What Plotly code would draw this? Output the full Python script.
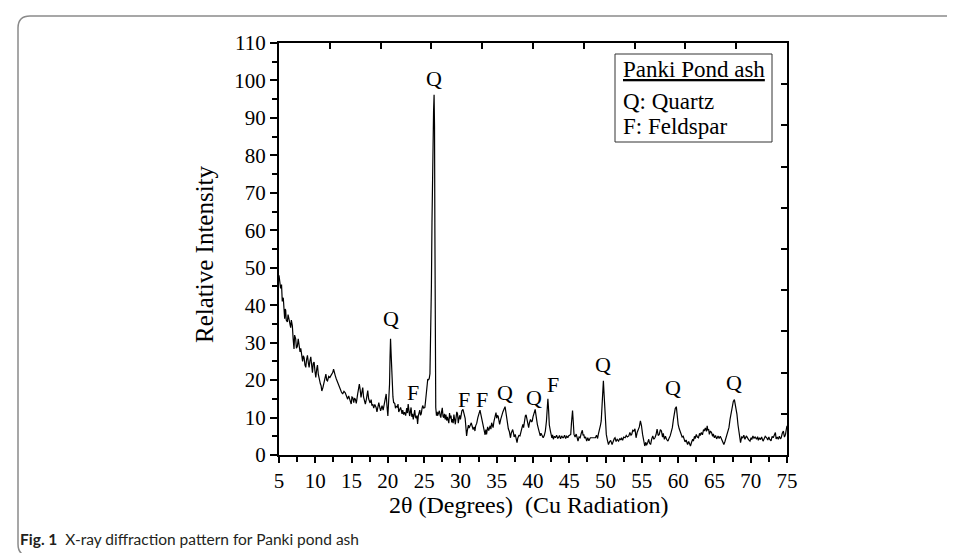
import plotly.graph_objects as go

# ---- data ----
two_theta = [
    5.0, 5.1, 5.22, 5.35, 5.45, 5.59, 5.7, 5.78, 5.85, 5.92, 6.0, 6.15, 6.25, 6.38, 6.5, 6.61, 6.7, 6.84, 6.95, 7.07,
    7.15, 7.3, 7.4, 7.53, 7.65, 7.76, 7.9, 8.0, 8.13, 8.25, 8.35, 8.46, 8.58, 8.69, 8.8, 8.92, 9.05, 9.15, 9.25, 9.38,
    9.5, 9.61, 9.72, 9.84, 9.95, 10.07, 10.2, 10.3, 10.42, 10.53, 10.7, 10.8, 10.9, 11.05, 11.23, 11.35, 11.46, 11.58, 11.69, 11.85,
    12.01, 12.15, 12.29, 12.4, 12.52, 12.63, 12.75, 12.9, 13.07, 13.2, 13.3, 13.45, 13.6, 13.77, 13.95, 14.13, 14.3, 14.46, 14.6, 14.78,
    14.95, 15.05, 15.15, 15.3, 15.4, 15.52, 15.65, 15.84, 15.95, 16.07, 16.18, 16.3, 16.42, 16.54, 16.65, 16.75, 16.9, 17.05, 17.23, 17.35,
    17.45, 17.55, 17.7, 17.8, 17.92, 18.05, 18.2, 18.38, 18.5, 18.62, 18.75, 18.88, 19.0, 19.08, 19.2, 19.35, 19.54, 19.65, 19.77, 19.88,
    20.0, 20.1, 20.23, 20.3, 20.37, 20.45, 20.52, 20.6, 20.7, 20.8, 20.95, 21.05, 21.15, 21.3, 21.4, 21.5, 21.62, 21.75, 21.85, 21.95,
    22.05, 22.17, 22.3, 22.45, 22.6, 22.7, 22.8, 22.9, 23.0, 23.1, 23.2, 23.3, 23.4, 23.5, 23.6, 23.7, 23.8, 23.9, 24.0, 24.1,
    24.2, 24.3, 24.4, 24.5, 24.6, 24.7, 24.8, 24.95, 25.1, 25.2, 25.3, 25.4, 25.5, 25.6, 25.7, 25.8, 25.87, 25.95, 26.0, 26.08,
    26.15, 26.22, 26.3, 26.37, 26.43, 26.48, 26.52, 26.56, 26.6, 26.7, 26.8, 26.85, 26.95, 27.1, 27.2, 27.3, 27.4, 27.5, 27.6, 27.7,
    27.8, 27.9, 28.0, 28.1, 28.2, 28.3, 28.4, 28.5, 28.6, 28.7, 28.8, 28.9, 29.0, 29.1, 29.2, 29.3, 29.4, 29.5, 29.6, 29.7,
    29.8, 29.9, 30.0, 30.1, 30.2, 30.35, 30.45, 30.55, 30.65, 30.75, 30.85, 30.95, 31.1, 31.2, 31.35, 31.5, 31.6, 31.75, 31.9, 32.0,
    32.1, 32.25, 32.4, 32.55, 32.7, 32.8, 32.95, 33.05, 33.2, 33.3, 33.4, 33.5, 33.6, 33.75, 33.9, 34.1, 34.2, 34.3, 34.4, 34.5,
    34.62, 34.75, 34.9, 35.0, 35.1, 35.2, 35.3, 35.4, 35.55, 35.7, 35.85, 36.0, 36.15, 36.3, 36.4, 36.5, 36.6, 36.75, 36.9, 37.0,
    37.1, 37.2, 37.3, 37.4, 37.55, 37.7, 37.8, 37.9, 38.05, 38.2, 38.35, 38.5, 38.6, 38.7, 38.85, 38.95, 39.05, 39.15, 39.25, 39.4,
    39.5, 39.65, 39.8, 39.9, 40.0, 40.15, 40.3, 40.4, 40.5, 40.6, 40.75, 40.85, 41.0, 41.1, 41.25, 41.4, 41.55, 41.7, 41.85, 41.95,
    42.05, 42.15, 42.25, 42.4, 42.5, 42.6, 42.7, 42.8, 42.95, 43.1, 43.25, 43.4, 43.5, 43.65, 43.8, 43.95, 44.1, 44.2, 44.35, 44.5,
    44.65, 44.8, 44.9, 45.05, 45.2, 45.3, 45.45, 45.55, 45.65, 45.8, 45.95, 46.1, 46.2, 46.35, 46.5, 46.65, 46.8, 46.9, 47.0, 47.1,
    47.25, 47.4, 47.55, 47.7, 47.9, 48.05, 48.2, 48.35, 48.5, 48.6, 48.75, 48.9, 49.0, 49.15, 49.3, 49.4, 49.5, 49.6, 49.7, 49.8,
    49.9, 50.0, 50.1, 50.25, 50.4, 50.55, 50.7, 50.9, 51.05, 51.2, 51.3, 51.45, 51.6, 51.8, 51.95, 52.1, 52.2, 52.35, 52.5, 52.7,
    52.85, 53.0, 53.2, 53.35, 53.5, 53.6, 53.75, 53.9, 54.05, 54.2, 54.35, 54.5, 54.65, 54.8, 54.95, 55.1, 55.25, 55.4, 55.55, 55.65,
    55.8, 55.95, 56.05, 56.2, 56.35, 56.5, 56.65, 56.8, 56.95, 57.1, 57.25, 57.4, 57.55, 57.7, 57.85, 57.95, 58.1, 58.25, 58.4, 58.6,
    58.75, 58.9, 59.05, 59.2, 59.35, 59.5, 59.6, 59.75, 59.85, 60.0, 60.15, 60.25, 60.4, 60.55, 60.7, 60.8, 60.95, 61.1, 61.3, 61.45,
    61.55, 61.7, 61.85, 62.0, 62.1, 62.25, 62.35, 62.5, 62.65, 62.8, 62.95, 63.05, 63.2, 63.35, 63.5, 63.6, 63.75, 63.9, 64.0, 64.1,
    64.2, 64.3, 64.45, 64.6, 64.75, 64.85, 65.0, 65.15, 65.3, 65.5, 65.65, 65.8, 65.9, 66.05, 66.2, 66.3, 66.45, 66.6, 66.75, 66.9,
    67.0, 67.15, 67.3, 67.45, 67.6, 67.75, 67.9, 68.0, 68.1, 68.25, 68.4, 68.5, 68.6, 68.75, 68.9, 69.05, 69.2, 69.4, 69.55, 69.7,
    69.9, 70.05, 70.15, 70.3, 70.45, 70.6, 70.8, 70.95, 71.05, 71.2, 71.35, 71.5, 71.7, 71.85, 72.0, 72.2, 72.35, 72.5, 72.6, 72.8,
    72.95, 73.1, 73.25, 73.4, 73.5, 73.65, 73.8, 73.95, 74.1, 74.2, 74.35, 74.5, 74.65, 74.8, 74.9, 75.0,
]
intensity = [
    48, 46, 44.5, 45.5, 41, 42, 37, 36.4, 39, 38.7, 36, 35.5, 37.5, 36.5, 35, 34, 36, 34.5, 31, 28.3,
    32, 31, 28.5, 29, 31, 29.5, 27.5, 28.5, 27, 25, 26.5, 26, 24, 23.4, 25.5, 26.6, 24.5, 23.4, 25, 26.2,
    24, 22, 24.5, 24.8, 22.5, 20.7, 23, 24, 21.5, 20.3, 19, 18.5, 17.1, 18, 19.8, 20.5, 21.6, 20, 19.8, 21,
    20.7, 21.2, 21.7, 22, 22.9, 21.8, 21.2, 20.3, 19.3, 18.8, 18.1, 17.5, 16.8, 16.3, 17, 16.6, 15.5, 14.9, 15.8, 14.5,
    13.6, 15.5, 15.4, 14, 15.2, 14.9, 13.8, 16.3, 17.2, 18.9, 17.5, 15.4, 16.8, 18, 15.5, 14.2, 13.6, 15, 17.2, 15,
    14.5, 13.9, 14.8, 13.2, 13.6, 12.5, 13.5, 12.7, 11.5, 13, 14, 12.8, 11.8, 12.3, 13.2, 12, 13.6, 14.5, 16.3, 13,
    10.4, 14, 18.9, 26, 31, 27, 22, 18, 15.5, 14, 13.8, 12.5, 13, 12.8, 13.6, 11.5, 12.3, 12.7, 12, 11,
    12, 10.8, 11.4, 10.5, 12.5, 11.2, 13.6, 11, 10.4, 11.5, 12.7, 10.2, 11, 9.5, 10.8, 12, 10.2, 9.8, 10.5, 8.3,
    10.5, 11.2, 12, 10.6, 11, 12.3, 13.2, 12.5, 12.7, 14.5, 16.7, 18.5, 20.3, 20, 20.4, 21.7, 27.9, 35, 45, 62,
    75, 86, 92, 96.2, 88, 60, 35, 18, 12.7, 10.5, 11.5, 10.5, 11.2, 11.8, 10.6, 10, 11.5, 12.6, 10.3, 10,
    11, 9.5, 10.8, 9.2, 10.2, 9.3, 8.5, 11.2, 9.8, 10.5, 8.7, 9.6, 8.5, 10.8, 9.3, 8.2, 10, 11.5, 11, 8.5,
    9.8, 10.6, 9.5, 11.4, 11.8, 12.2, 11.2, 10.3, 9.8, 7.5, 5.1, 6.5, 8, 7.2, 8.2, 8.6, 7.8, 6.8, 7.5, 6.4,
    7.8, 8.5, 10, 11.2, 12, 11, 9.5, 8, 7.3, 6, 5.4, 6.8, 5.5, 7.5, 6.5, 7.8, 6.9, 8.6, 7.5, 7.3,
    9, 10.6, 11.3, 9.8, 10.5, 10.4, 9.2, 8.2, 9.5, 10.9, 11.5, 12.2, 12.9, 11, 9.5, 8.2, 7, 6.2, 4.6, 5.8,
    6.5, 6.8, 6, 4.8, 5.5, 4.2, 3.3, 4.5, 5.2, 5.1, 6.4, 6.9, 8.2, 7.3, 9.5, 10.5, 10.7, 9.6, 8.2, 7.3,
    8.5, 9.5, 8.8, 9.1, 10.2, 11.5, 12.2, 10.8, 9.2, 8.2, 7, 6, 5.1, 5.8, 4.9, 4.6, 5.2, 6.4, 9, 12.5,
    15, 12, 8, 6.4, 5.2, 4.6, 5.4, 4.2, 5, 4.6, 5.3, 4.5, 4.6, 5.2, 4.3, 5.1, 4.6, 4.6, 5.3, 4.4,
    5, 4.6, 5.1, 5.3, 5.5, 8.5, 11.9, 8.8, 5.5, 4.8, 5.6, 4.5, 3.7, 4.8, 4.6, 5.8, 6.6, 5.2, 5.5, 4.5,
    4.8, 3.7, 4.6, 3.8, 4.6, 4.6, 4.6, 4.6, 4.8, 4.6, 5.3, 4.4, 5.5, 6.5, 8, 9.1, 13, 17, 19.8, 16,
    11, 8.2, 5.5, 4, 2.8, 3.5, 3.9, 2.8, 3.8, 4.4, 4.6, 3.6, 4.2, 3.7, 4.4, 4, 4.6, 3.9, 4.8, 4.6,
    5.2, 4.8, 5.1, 6, 5.3, 5.5, 6.6, 6.4, 7, 4.6, 6, 6.9, 7.5, 9.1, 7.8, 5.5, 4.2, 2.4, 3.4, 2.6,
    3.3, 4.2, 3.2, 2.8, 4.2, 5.1, 4.2, 4.6, 5.4, 6.9, 5.2, 5.5, 6.8, 6.4, 4.8, 5.8, 4.2, 5, 4.2, 3.7,
    4.5, 5.1, 6.2, 7.3, 9.5, 11.3, 12.4, 12.9, 10.5, 8.2, 7, 6.4, 5.5, 4.8, 5, 4.2, 3.5, 4, 2.8, 3.6,
    3, 2.4, 3.4, 4.2, 3.7, 5, 4.4, 5.5, 4.8, 4.6, 5.8, 5.2, 6, 5.4, 6.8, 6.4, 7.2, 6.3, 7.8, 6.6,
    6.9, 5.5, 6.4, 6, 5, 5.6, 4.6, 5.2, 4.3, 5.1, 4.4, 5, 4.6, 3.8, 3.4, 2.8, 3.6, 4.6, 5.2, 6.5,
    7.3, 9.5, 11.3, 12.8, 14.3, 14.8, 13.4, 12, 10.9, 8, 5.5, 4.2, 3.3, 4.8, 4.6, 5.3, 4.2, 5.1, 4.5, 4.1,
    3.7, 4.6, 4.1, 5.1, 4.5, 4.8, 4.2, 4.9, 3.9, 4.6, 4.1, 4.8, 3.7, 4.3, 5, 4.6, 4, 4.8, 4.2, 3.8,
    5, 4.6, 5.3, 6, 4.3, 4.8, 4.2, 5, 4.3, 4.6, 5.8, 6.4, 4.8, 5.5, 6.8, 7.8,
]

x_ticks = [5, 10, 15, 20, 25, 30, 35, 40, 45, 50, 55, 60, 65, 70, 75]
y_ticks = [0, 10, 20, 30, 40, 50, 60, 70, 80, 90, 100, 110]
top_ticks = [5, 12, 19, 26, 33, 40, 47, 54, 61, 68, 75]
right_ticks = [0, 11, 22, 33, 44, 55, 66, 77, 88, 99, 110]
x_range = [5, 75]
y_range = [0, 110]

peak_labels = ["Q", "F", "Q", "F", "F", "Q", "Q", "F", "Q", "Q", "Q"]
peak_x = [20.45, 23.5, 26.3, 30.5, 33.0, 36.1, 40.2, 42.7, 49.7, 59.3, 67.7]
peak_y = [36.5, 16.6, 100.6, 14.8, 14.8, 16.6, 15.3, 18.9, 24.2, 18.0, 19.3]

legend_lines = ["<u>Panki Pond ash</u>", "Q: Quartz", "F: Feldspar"]
x_title = "2θ (Degrees)  (Cu Radiation)"
y_title = "Relative Intensity"
caption = "<b>Fig. 1</b>  X-ray diffraction pattern for Panki pond ash"

# ---- figure ----
W, H = 955, 553
L, R, T, B = 271, 176, 35, 106
PW, PH = W - L - R, H - T - B


def px(xp):
    return (xp - L) / PW


def py(yp):
    return (H - B - yp) / PH


SERIF = "Liberation Serif"

fig = go.Figure()
fig.add_trace(go.Scatter(x=two_theta, y=intensity, mode="lines",
                         line=dict(color="black", width=1.2), hoverinfo="skip"))
# helper trace to activate the top/right frame axes (invisible)
fig.add_trace(go.Scatter(x=x_range, y=y_range, xaxis="x2", yaxis="y2", mode="lines",
                         line=dict(width=0, color="rgba(0,0,0,0)"), hoverinfo="skip"))

axis_common = dict(showgrid=False, zeroline=False, showline=True, linecolor="black",
                   linewidth=2, tickcolor="black", tickwidth=1.5)

fig.update_layout(
    width=W, height=H,
    margin=dict(l=L, r=R, t=T, b=B),
    paper_bgcolor="white", plot_bgcolor="white",
    showlegend=False,
    font=dict(family=SERIF, color="black", size=21),
    xaxis=dict(range=x_range, tickmode="array", tickvals=x_ticks, ticks="outside", ticklen=6,
               tickfont=dict(family=SERIF, size=21),
               minor=dict(dtick=2.5, tick0=5, ticks="outside", ticklen=5, tickwidth=1.5, tickcolor="black"),
               **axis_common),
    yaxis=dict(range=y_range, tickmode="array", tickvals=y_ticks, ticks="outside", ticklen=7,
               tickfont=dict(family=SERIF, size=21),
               minor=dict(dtick=5, tick0=0, ticks="outside", ticklen=5, tickwidth=1.5, tickcolor="black"),
               **axis_common),
    xaxis2=dict(range=x_range, overlaying="x", side="top", anchor="y", tickmode="array",
                tickvals=top_ticks, ticks="inside", ticklen=6, showticklabels=False, **axis_common),
    yaxis2=dict(range=y_range, overlaying="y", side="right", anchor="x", tickmode="array",
                tickvals=right_ticks, ticks="inside", ticklen=6, showticklabels=False, **axis_common),
)

annotations = []
for lab, xv, yv in zip(peak_labels, peak_x, peak_y):
    annotations.append(dict(x=xv, y=yv, xref="x", yref="y", text=lab, showarrow=False,
                            font=dict(family=SERIF, size=22, color="black"),
                            xanchor="center", yanchor="middle"))

legend_y = [62, 93, 118]
for txt, yy in zip(legend_lines, legend_y):
    annotations.append(dict(x=px(613), y=py(yy), xref="paper", yref="paper", text=txt,
                            showarrow=False, xanchor="left", yanchor="middle",
                            font=dict(family=SERIF, size=23, color="black")))

annotations.append(dict(x=px(520), y=py(497), xref="paper", yref="paper", text=x_title,
                        showarrow=False, xanchor="center", yanchor="middle",
                        font=dict(family=SERIF, size=24, color="black")))
annotations.append(dict(x=px(196), y=py(246), xref="paper", yref="paper", text=y_title,
                        showarrow=False, xanchor="center", yanchor="middle", textangle=-90,
                        font=dict(family=SERIF, size=25, color="black")))
annotations.append(dict(x=px(10), y=py(531), xref="paper", yref="paper", text=caption,
                        showarrow=False, xanchor="left", yanchor="middle",
                        font=dict(family="Lato", size=15.5, color="#231f20")))
fig.update_layout(annotations=annotations)

# legend box
fig.add_shape(type="rect", xref="paper", yref="paper",
              x0=px(607), x1=px(764), y0=py(134), y1=py(46),
              line=dict(color="#333333", width=1), fillcolor="rgba(0,0,0,0)")

# outer rounded frame
fx0, fx1, fy0, fy1, rr = 10, 965, 8, 548, 12
rx, ry = rr / PW, rr / PH
X0, X1, Y0, Y1 = px(fx0), px(fx1), py(fy0), py(fy1)
path = (f"M {X0+rx} {Y0} L {X1} {Y0} M {X0+rx} {Y0} Q {X0} {Y0} {X0} {Y0-ry} "
        f"L {X0} {Y1+ry} Q {X0} {Y1} {X0+rx} {Y1} L {X1} {Y1}")
fig.add_shape(type="path", xref="paper", yref="paper", path=path,
              line=dict(color="#8a8a8a", width=1.5))

fig.write_html("out.html")
